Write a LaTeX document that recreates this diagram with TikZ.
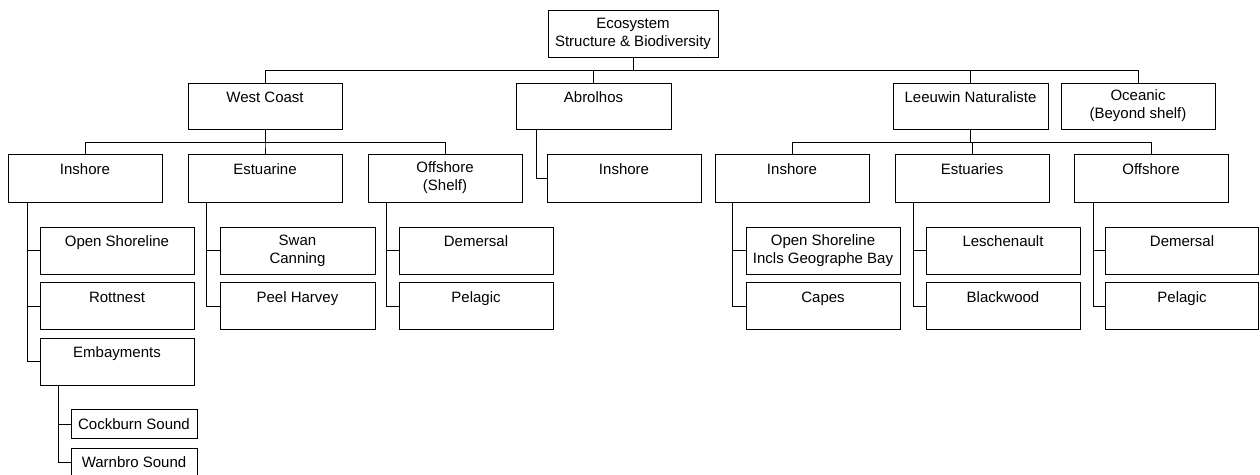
\documentclass[tikz,border=0pt]{standalone}
\usepackage{fontspec}
\setmainfont{Liberation Sans}
\begin{document}
\begin{tikzpicture}[x=1pt, y=-1pt,
    box/.style={draw, line width=0.9pt, align=center, inner sep=0pt,
        font=\fontsize{15}{18}\selectfont, minimum width=154pt, minimum height=47pt},
    small/.style={box, minimum width=126pt, minimum height=29pt},
    link/.style={line width=0.9pt}]
            \useasboundingbox (0,0) rectangle (1260,474);

            \node[box, minimum width=170pt] (root) at (633,33.5) {Ecosystem\\Structure \& Biodiversity};

            \node[box, minimum height=46pt] (wc) at (265,106) {West Coast\\~};
            \node[box, minimum width=155pt, minimum height=46pt] (abr) at (593.5,106) {Abrolhos\\~};
            \node[box, minimum width=155pt, minimum height=46pt] (ln) at (970.5,106) {Leeuwin Naturaliste\\~};
            \node[box, minimum height=46pt] (oce) at (1138,106) {Oceanic\\(Beyond shelf)};

            \node[box, minimum height=48pt] (wcin) at (85,178) {Inshore\\~};
            \node[box, minimum height=48pt] (wcest) at (265,178) {Estuarine\\~};
            \node[box, minimum height=48pt] (wcoff) at (445,178) {Offshore\\(Shelf)};
            \node[box, minimum height=48pt] (abrin) at (624,178) {Inshore\\~};
            \node[box, minimum height=48pt] (lnin) at (792,178) {Inshore\\~};
            \node[box, minimum height=48pt] (lnest) at (972,178) {Estuaries\\~};
            \node[box, minimum height=48pt] (lnoff) at (1151,178) {Offshore\\~};

            \node[box] (wcos) at (117,250.5) {Open Shoreline\\~};
            \node[box] (wcrot) at (117,306) {Rottnest\\~};
            \node[box] (wcemb) at (117,361.5) {Embayments\\~};
            \node[box, minimum width=155pt] (wcswan) at (297.5,250.5) {Swan\\Canning};
            \node[box, minimum width=155pt] (wcpeel) at (297.5,306) {Peel Harvey\\~};
            \node[box] (wcdem) at (476,250.5) {Demersal\\~};
            \node[box] (wcpel) at (476,306) {Pelagic\\~};

            \node[box] (lnos) at (823,250.5) {Open Shoreline\\Incls Geographe Bay};
            \node[box] (lncap) at (823,306) {Capes\\~};
            \node[box] (lnles) at (1003,250.5) {Leschenault\\~};
            \node[box] (lnblk) at (1003,306) {Blackwood\\~};
            \node[box, minimum width=153pt] (lndem) at (1182,250.5) {Demersal\\~};
            \node[box, minimum width=153pt] (lnpel) at (1182,306) {Pelagic\\~};

            \node[small] (cock) at (134,424) {Cockburn Sound};
            \node[small] (warn) at (134,462.5) {Warnbro Sound};

            % top level
            \draw[link] (root.south) -- ++(0,13) -| (wc.north);
            \draw[link] (root.south) -- ++(0,13) -| (abr.north);
            \draw[link] (root.south) -- ++(0,13) -| (ln.north);
            \draw[link] (root.south) -- ++(0,13) -| (oce.north);

            % regions
            \draw[link] (wc.south) -- ++(0,13) -| (wcin.north);
            \draw[link] (wc.south) -- ++(0,13) -| (wcest.north);
            \draw[link] (wc.south) -- ++(0,13) -| (wcoff.north);
            \draw[link] ([xshift=21pt]abr.south west) |- (abrin.west);
            \draw[link] (ln.south) -- ++(0,13) -| (lnin.north);
            \draw[link] (ln.south) -- ++(0,13) -| (lnest.north);
            \draw[link] (ln.south) -- ++(0,13) -| (lnoff.north);

            % habitats
            \draw[link] ([xshift=20pt]wcin.south west) |- (wcos.west);
            \draw[link] ([xshift=20pt]wcin.south west) |- (wcrot.west);
            \draw[link] ([xshift=20pt]wcin.south west) |- (wcemb.west);
            \draw[link] ([xshift=19pt]wcest.south west) |- (wcswan.west);
            \draw[link] ([xshift=19pt]wcest.south west) |- (wcpeel.west);
            \draw[link] ([xshift=19pt]wcoff.south west) |- (wcdem.west);
            \draw[link] ([xshift=19pt]wcoff.south west) |- (wcpel.west);
            \draw[link] ([xshift=18pt]lnin.south west) |- (lnos.west);
            \draw[link] ([xshift=18pt]lnin.south west) |- (lncap.west);
            \draw[link] ([xshift=19pt]lnest.south west) |- (lnles.west);
            \draw[link] ([xshift=19pt]lnest.south west) |- (lnblk.west);
            \draw[link] ([xshift=20pt]lnoff.south west) |- (lndem.west);
            \draw[link] ([xshift=20pt]lnoff.south west) |- (lnpel.west);
            \draw[link] ([xshift=19pt]wcemb.south west) |- (cock.west);
            \draw[link] ([xshift=19pt]wcemb.south west) |- (warn.west);
\end{tikzpicture}
\end{document}
